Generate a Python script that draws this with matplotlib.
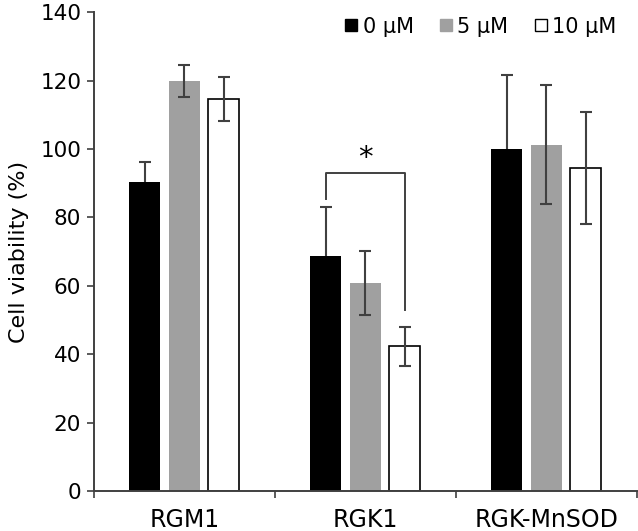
import numpy as np
import matplotlib
matplotlib.use("Agg")
import matplotlib.pyplot as plt
from matplotlib.lines import Line2D

# Cell lines and treatment doses
cell_lines = ["RGM1", "RGK1", "RGK-MnSOD"]
doses = ["0 μM", "5 μM", "10 μM"]

# Mean cell viability (%) per dose, one entry per cell line
viab_0 = [90.5, 68.7, 99.9]
viab_5 = [120.0, 60.9, 101.2]
viab_10 = [114.7, 42.3, 94.5]

# Error bars (SD)
err_0 = [5.8, 14.3, 21.9]
err_5 = [4.7, 9.4, 17.4]
err_10 = [6.5, 5.7, 16.4]

fill_colors = ["#000000", "#a0a0a0", "#ffffff"]
axis_color = "#404040"

plt.rcParams["font.family"] = "DejaVu Sans"

fig = plt.figure(figsize=(6.38, 5.31), dpi=100)
ax = fig.add_axes([0.1469, 0.0753, 0.851, 0.9016])

centers = np.arange(len(cell_lines)) + 0.5
width = 0.171
offset = 0.218

series = [viab_0, viab_5, viab_10]
errors = [err_0, err_5, err_10]
for i, (vals, errs) in enumerate(zip(series, errors)):
    x = centers + (i - 1) * offset
    edge = "#000000" if i == 2 else fill_colors[i]
    ax.bar(x, vals, width=width, color=fill_colors[i], edgecolor=edge,
           linewidth=1.2 if i == 2 else 0, zorder=2)
    # the black bars hide their lower whisker
    ax.errorbar(x, vals, yerr=errs, fmt="none", ecolor=axis_color,
                elinewidth=1.5, capsize=4, capthick=1.5,
                zorder=1.5 if i == 0 else 3)

# Significance bracket between 0 and 10 μM for RGK1
x_left = centers[1] - offset
x_right = centers[1] + offset
ax.plot([x_left, x_left, x_right, x_right], [85.3, 93.1, 93.1, 52.9],
        color=axis_color, linewidth=1.4, zorder=3)
ax.text(centers[1], 93.3, "*", ha="center", va="bottom", fontsize=21,
        color="#000000")

ax.set_xlim(0, 3)
ax.set_ylim(0, 140)
ax.set_yticks(np.arange(0, 141, 20))
ax.set_xticks([0, 1, 2, 3])
ax.set_xticklabels([])
ax.set_xticks(centers, minor=True)
ax.set_xticklabels(cell_lines, minor=True, fontsize=17)
ax.tick_params(axis="x", which="minor", length=0, pad=12)
ax.tick_params(axis="x", which="major", length=5, width=1.2, color=axis_color)
ax.tick_params(axis="y", length=5, width=1.2, color=axis_color,
               labelsize=15.5, pad=4)
ax.set_ylabel("Cell viability (%)", fontsize=16, labelpad=8)

for side in ["top", "right"]:
    ax.spines[side].set_visible(False)
for side in ["left", "bottom"]:
    ax.spines[side].set_color(axis_color)
    ax.spines[side].set_linewidth(1.4)

handles = [Line2D([], [], marker="s", linestyle="none", markersize=9,
                  markerfacecolor=fill_colors[i],
                  markeredgecolor="#000000" if i != 1 else fill_colors[i],
                  markeredgewidth=1.0) for i in range(3)]
ax.legend(handles, doses, loc="upper right", ncol=3, frameon=False,
          fontsize=15, handlelength=0.7, handletextpad=0.2,
          columnspacing=1.2, bbox_to_anchor=(0.997, 1.03))

fig.savefig("out.png", dpi=100)
